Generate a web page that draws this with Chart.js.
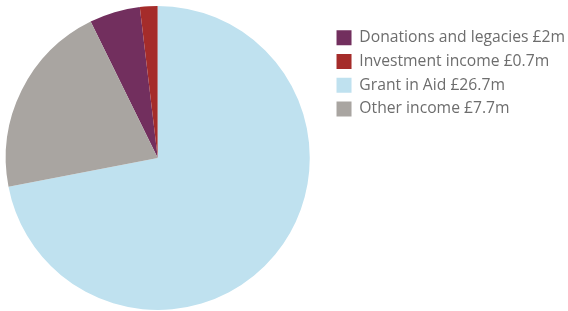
<!DOCTYPE html>
<html>
<head>
<meta charset="utf-8">
<script src="https://cdn.jsdelivr.net/npm/chart.js@4"></script>
<style>
  html, body { margin: 0; padding: 0; background: #fff; }
  #wrap { width: 568px; height: 311px; overflow: hidden; }
  /* nudge the canvas left so the pie sits where it should */
  #myChart { margin-left: -13px; display: block; }
</style>
</head>
<body>
<div id="wrap"><canvas id="myChart" width="581" height="311"></canvas></div>
<script>
// income sources, in legend order (£m)
const labels = ["Donations and legacies £2m", "Investment income £0.7m", "Grant in Aid £26.7m", "Other income £7.7m"];
const values = [2, 0.7, 26.7, 7.7];
const colors = ["#722f5e", "#a52c2a", "#bfe1ef", "#a9a5a1"];

// start so that Grant in Aid begins at 12 o'clock
const total = values.reduce((a, b) => a + b, 0);
const startAngle = -((values[0] + values[1]) / total) * 360;

const ctx = document.getElementById("myChart").getContext("2d");
const myChart = new Chart(ctx, {
  type: "pie",
  data: {
    labels: labels,
    datasets: [
      {
        data: values,
        backgroundColor: colors,
        borderWidth: 0,
      },
    ],
  },
  options: {
    responsive: false,
    animation: false,
    rotation: startAngle,
    layout: {
      padding: { left: 0, top: 6, bottom: 1, right: -7 },
    },
    plugins: {
      legend: {
        display: true,
        position: "right",
        align: "start",
        // empty title just to push the items down a bit
        title: { display: true, text: " ", font: { size: 10 }, padding: { top: 0, bottom: 4 } },
        labels: {
          boxWidth: 15,
          boxHeight: 15,
          padding: 8,
          color: "#6d6d6d",
          font: { family: "Open Sans", size: 15.7 },
        },
      },
      tooltip: { enabled: false },
    },
  },
});
</script>
</body>
</html>
